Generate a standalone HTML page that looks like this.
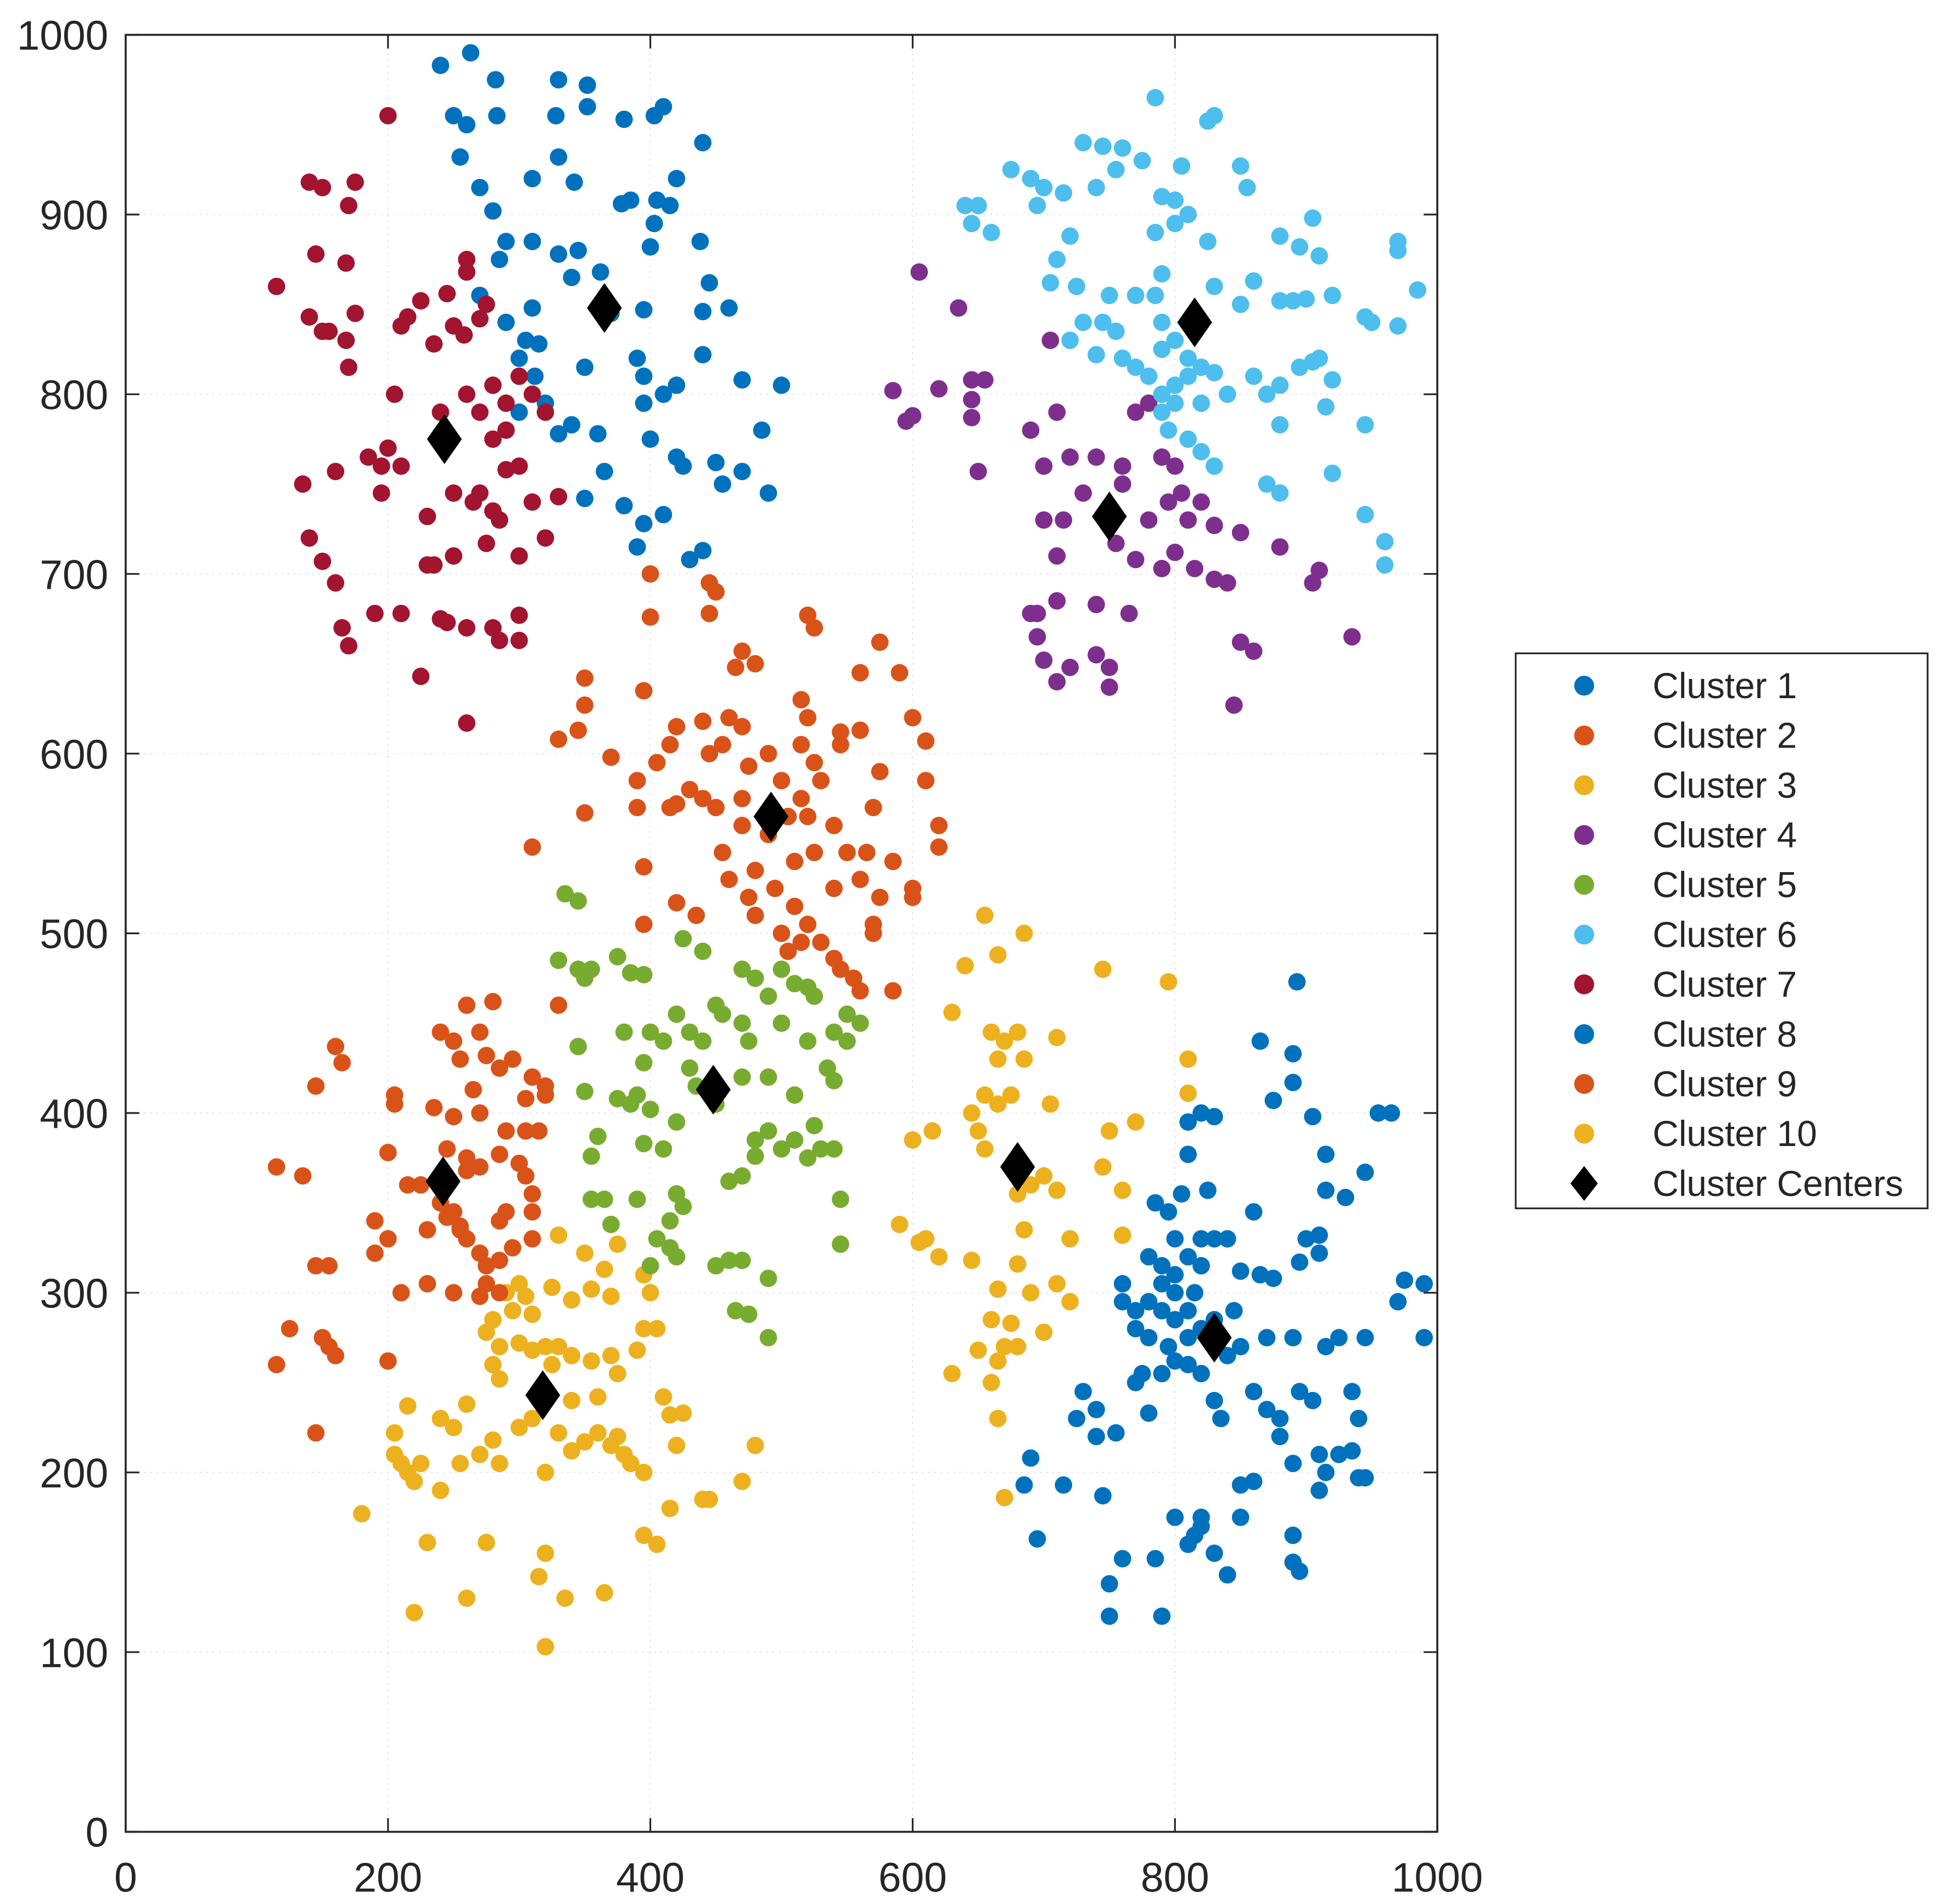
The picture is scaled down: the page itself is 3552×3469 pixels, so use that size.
<!DOCTYPE html>
<html><head><meta charset="utf-8"><style>
html,body{margin:0;padding:0;background:#fff;}
svg{display:block;}
text{font-family:"Liberation Sans",sans-serif;fill:#262626;}
</style></head><body>
<svg id="chart" xmlns="http://www.w3.org/2000/svg" width="3552" height="3469" viewBox="0 0 1567 1530" preserveAspectRatio="none">
<g id="grid"></g>
<g id="points"></g>
<g id="axes"></g>
<g id="legend"></g>
</svg>
<script>
const xTicks=[0,200,400,600,800,1000];
const yTicks=[0,100,200,300,400,500,600,700,800,900,1000];
const clusterNames=["Cluster 1","Cluster 2","Cluster 3","Cluster 4","Cluster 5","Cluster 6","Cluster 7","Cluster 8","Cluster 9","Cluster 10"];
const clusterColors=["#0072BD","#D95319","#EDB120","#7E2F8E","#77AC30","#4DBEEE","#A2142F","#0072BD","#D95319","#EDB120"];
const cluster1=[[240,983],[263,990],[282,975],[330,975],[352,972],[250,955],[260,950],[283,955],[328,955],[352,960],[380,953],[410,960],[403,955],[440,940],[255,932],[330,932],[342,918],[310,920],[270,915],[280,902],[385,908],[378,906],[405,908],[415,905],[420,920],[403,895],[290,885],[310,885],[285,875],[330,878],[345,880],[362,868],[400,882],[438,885],[445,862],[340,865],[270,855],[370,845],[395,847],[290,840],[310,848],[440,846],[460,848],[305,830],[315,828],[300,820],[350,815],[390,820],[395,810],[440,822],[470,808],[312,810],[410,800],[420,805],[395,795],[500,805],[340,783],[360,778],[330,778],[365,757],[400,775],[420,765],[425,760],[450,762],[455,750],[470,757],[490,745],[485,780],[350,742],[380,738],[410,733],[395,728],[390,715],[430,708],[440,713],[300,790],[320,795]];
const cluster2=[[400,700],[445,695],[450,690],[400,676],[445,678],[520,677],[525,670],[575,662],[560,645],[590,645],[470,657],[480,650],[465,648],[420,615],[440,618],[460,620],[470,615],[520,620],[515,630],[545,612],[560,613],[600,620],[610,607],[350,642],[350,627],[345,613],[330,608],[370,598],[390,585],[405,595],[415,605],[445,600],[455,605],[475,593],[490,600],[515,605],[525,595],[545,605],[575,590],[395,635],[430,580],[440,575],[450,570],[470,575],[500,585],[515,575],[530,585],[470,560],[420,572],[350,567],[390,570],[415,570],[490,555],[505,565],[520,565],[540,560],[570,570],[550,545],[565,545],[560,530],[455,545],[460,530],[480,535],[510,540],[525,545],[585,540],[600,525],[310,548],[395,537],[395,505],[420,517],[435,510],[475,520],[480,510],[495,525],[510,515],[500,500],[505,490],[515,495],[520,505],[530,495],[540,486],[545,480],[555,475],[570,500],[570,505],[560,468],[585,468],[540,525],[575,520],[620,560],[620,548],[610,585],[600,520]];
const cluster3=[[330,332],[350,322],[375,327],[365,313],[290,300],[300,305],[305,298],[295,290],[310,288],[280,285],[275,278],[285,270],[300,272],[310,268],[320,270],[330,270],[340,265],[325,260],[280,260],[285,252],[325,303],[340,296],[355,302],[370,298],[395,310],[400,300],[395,280],[405,280],[370,265],[355,262],[390,268],[375,255],[410,242],[415,232],[425,233],[360,242],[340,240],[320,240],[310,230],[300,225],[330,222],[360,222],[370,215],[375,220],[350,217],[340,212],[260,238],[250,225],[240,230],[215,237],[205,222],[225,205],[255,205],[270,210],[280,218],[285,205],[205,210],[210,205],[215,200],[220,195],[240,190],[320,200],[380,210],[385,205],[395,200],[415,180],[440,185],[445,185],[470,195],[480,215],[420,215],[180,177],[230,161],[275,161],[220,122],[260,130],[320,155],[315,142],[335,130],[365,133],[395,165],[405,160],[320,103]];
const cluster4=[[605,868],[635,848],[585,802],[595,785],[600,788],[620,803],[645,808],[655,808],[645,797],[645,787],[705,830],[710,790],[690,780],[720,765],[740,765],[770,790],[780,795],[760,760],[650,757],[700,760],[700,730],[715,730],[730,745],[760,750],[790,765],[795,740],[805,745],[780,730],[810,730],[830,727],[850,723],[800,712],[710,710],[755,717],[770,708],[790,703],[815,703],[830,697],[840,695],[880,715],[910,702],[905,695],[935,665],[695,678],[690,678],[695,665],[700,652],[720,648],[710,685],[740,683],[765,678],[740,655],[750,648],[710,640],[750,637],[850,662],[860,657],[845,627],[820,740],[800,760]];
const cluster5=[[335,522],[345,518],[330,485],[345,480],[350,475],[355,480],[375,487],[385,478],[395,477],[425,497],[440,490],[470,480],[480,475],[500,480],[510,472],[520,470],[450,460],[455,455],[470,450],[475,440],[490,465],[525,465],[500,450],[520,440],[540,445],[550,440],[550,455],[560,450],[535,425],[540,418],[420,455],[430,445],[440,440],[400,445],[410,440],[430,425],[435,415],[395,428],[380,445],[390,410],[385,405],[400,402],[345,437],[350,412],[375,408],[360,387],[355,376],[355,352],[365,352],[395,383],[410,380],[420,395],[450,405],[470,420],[490,420],[510,410],[480,385],[490,390],[500,380],[480,376],[470,365],[460,362],[520,375],[530,380],[540,380],[525,393],[510,385],[415,340],[420,355],[425,348],[390,352],[370,338],[405,330],[415,325],[420,320],[400,315],[450,315],[460,318],[470,318],[465,290],[475,288],[490,275],[490,308],[545,327],[545,352]];
const cluster6=[[785,965],[730,940],[745,938],[760,937],[830,955],[825,952],[775,930],[805,927],[850,927],[675,925],[690,920],[700,915],[715,912],[740,915],[755,925],[695,905],[810,900],[800,895],[790,910],[800,908],[855,915],[640,905],[650,905],[645,895],[660,890],[720,888],[785,890],[825,885],[880,888],[895,882],[905,898],[910,877],[970,885],[970,880],[920,855],[970,838],[985,858],[950,840],[945,843],[710,875],[725,860],[750,855],[770,855],[790,867],[785,855],[830,860],[850,850],[860,863],[880,852],[890,852],[900,853],[705,862],[730,840],[745,840],[755,835],[760,820],[770,815],[720,830],[740,822],[790,840],[790,825],[800,830],[810,820],[820,815],[780,810],[790,800],[800,805],[810,810],[830,812],[800,795],[790,790],[820,795],[840,800],[860,810],[870,800],[880,805],[880,783],[895,815],[905,818],[910,820],[920,808],[915,793],[920,756],[880,745],[870,750],[810,775],[820,768],[795,780],[830,760],[945,783],[945,733],[960,718],[960,705]];
const cluster7=[[115,860],[140,918],[150,915],[170,905],[175,918],[200,955],[145,878],[168,873],[140,843],[150,835],[155,835],[168,830],[170,815],[175,845],[210,838],[215,843],[225,852],[235,828],[245,856],[250,838],[258,833],[260,875],[260,868],[270,842],[275,850],[205,800],[185,765],[200,770],[195,760],[210,760],[135,750],[160,757],[195,745],[140,720],[150,707],[160,695],[165,670],[170,660],[190,678],[210,678],[225,643],[240,675],[245,673],[260,670],[280,670],[285,663],[300,663],[300,677],[260,617],[230,705],[235,705],[250,710],[275,717],[300,710],[320,720],[230,732],[250,745],[265,740],[280,735],[290,758],[310,740],[330,743],[240,790],[260,800],[270,790],[280,805],[290,795],[300,810],[310,800],[320,790],[280,775],[290,780],[300,760],[270,745],[285,730]];
const cluster8=[[893,473],[865,440],[890,433],[875,407],[890,417],[905,398],[955,400],[965,400],[820,400],[810,395],[830,398],[810,377],[915,377],[945,367],[860,345],[915,357],[930,353],[900,330],[910,332],[910,322],[895,317],[850,312],[865,310],[875,308],[820,330],[830,330],[840,330],[800,330],[795,345],[805,355],[825,357],[785,350],[780,320],[790,315],[800,310],[810,320],[820,315],[815,300],[800,300],[790,305],[810,290],[800,285],[790,290],[780,295],[770,290],[760,305],[760,295],[770,280],[780,275],[795,270],[810,275],[820,280],[830,285],[845,290],[850,270],[870,275],[890,275],[840,265],[810,260],[790,255],[775,255],[800,262],[820,255],[830,240],[835,230],[860,245],[870,235],[880,230],[895,245],[905,240],[915,270],[925,275],[945,275],[935,245],[940,230],[970,295],[975,307],[990,305],[990,275],[780,233],[755,222],[740,235],[740,220],[725,230],[730,245],[770,250],[880,220],[890,205],[910,210],[925,210],[935,212],[915,200],[940,197],[945,197],[910,190],[860,195],[850,193],[690,208],[685,193],[715,193],[745,187],[800,175],[810,160],[815,165],[820,170],[830,155],[820,175],[760,152],[785,152],[750,138],[750,120],[790,120],[840,143],[890,150],[895,145],[890,165],[695,163],[850,175]];
const cluster9=[[145,415],[160,437],[165,428],[205,410],[205,405],[240,445],[250,440],[260,460],[255,430],[270,445],[280,462],[275,432],[285,425],[295,430],[330,460],[310,420],[305,408],[320,415],[320,410],[265,413],[235,403],[250,398],[270,400],[245,380],[260,375],[290,390],[305,390],[315,390],[200,378],[215,360],[225,360],[240,350],[250,345],[255,337],[260,368],[270,370],[285,377],[300,372],[305,365],[310,355],[245,342],[260,330],[255,335],[230,335],[190,340],[190,322],[200,330],[285,340],[290,345],[310,345],[270,322],[275,315],[285,318],[295,325],[310,330],[275,305],[285,300],[270,298],[230,305],[250,300],[210,300],[145,315],[155,315],[115,370],[135,365],[125,280],[150,275],[155,270],[160,265],[115,260],[200,262],[145,222]];
const cluster10=[[655,510],[665,488],[685,500],[640,482],[745,480],[795,473],[710,442],[670,440],[660,445],[680,445],[630,456],[665,430],[685,430],[645,400],[655,410],[675,410],[665,405],[705,405],[810,430],[810,411],[600,385],[615,390],[650,390],[655,380],[700,365],[690,360],[680,355],[750,390],[770,395],[760,357],[745,370],[710,357],[685,335],[720,330],[645,318],[605,328],[610,330],[590,338],[620,320],[680,316],[690,300],[710,305],[720,295],[665,302],[700,278],[760,332],[660,285],[675,283],[650,268],[670,270],[680,270],[665,262],[660,250],[630,255],[665,230],[670,186]];
const centersX=[243,365,492,448,242,318,680,830,750,815];
const centersY=[775,848,565,413,362,243,370,275,732,840];

const NS="http://www.w3.org/2000/svg";
const L=101,R=1155,T=28,B=1472;
function sx(v){return L+(v-0)/(1000-0)*(R-L);}
function sy(v){return B-(v-0)/(1000-0)*(B-T);}
function mk(tag,attrs,parent){const e=document.createElementNS(NS,tag);for(const k in attrs)e.setAttribute(k,attrs[k]);parent.appendChild(e);return e;}
const grid=document.getElementById('grid'),pts=document.getElementById('points'),axes=document.getElementById('axes'),leg=document.getElementById('legend');

xTicks.forEach(v=>{
  const g=mk('line',{x1:sx(v),x2:sx(v),y1:T,y2:B,stroke:'#dcdcdc','stroke-width':1,'stroke-dasharray':'1,4'},grid);
  
  
});
yTicks.forEach(v=>{
  const g=mk('line',{x1:L,x2:R,y1:sy(v),y2:sy(v),stroke:'#dcdcdc','stroke-width':1,'stroke-dasharray':'1,4'},grid);
  
  
});

const allClusters=[cluster1,cluster2,cluster3,cluster4,cluster5,cluster6,cluster7,cluster8,cluster9,cluster10];
allClusters.forEach((arr,ci)=>{
  arr.forEach(p=>{
    const c=mk('circle',{cx:sx(p[0]),cy:sy(p[1]),r:7,fill:clusterColors[ci]},pts);
    
    
  });
});
centersX.forEach((x,i)=>{
  const cx=sx(x),cy=sy(centersY[i]);
  const d=mk('polygon',{points:`${cx},${cy-20} ${cx+14},${cy} ${cx},${cy+20} ${cx-14},${cy}`,fill:'#000'},pts);
  
  
});

const frame=mk('rect',{x:L,y:T,width:R-L,height:B-T,fill:'none',stroke:'#262626','stroke-width':1.6},axes);


xTicks.forEach(v=>{
  mk('line',{x1:sx(v),x2:sx(v),y1:B,y2:B-11,stroke:'#262626','stroke-width':1.4},axes);
  mk('line',{x1:sx(v),x2:sx(v),y1:T,y2:T+11,stroke:'#262626','stroke-width':1.4},axes);
  const t=mk('text',{x:sx(v),y:B+48,'text-anchor':'middle','font-size':33},axes);
  t.textContent=v;
  
  
});
yTicks.forEach(v=>{
  mk('line',{x1:L,x2:L+11,y1:sy(v),y2:sy(v),stroke:'#262626','stroke-width':1.4},axes);
  mk('line',{x1:R,x2:R-11,y1:sy(v),y2:sy(v),stroke:'#262626','stroke-width':1.4},axes);
  const t=mk('text',{x:L-14,y:sy(v)+12,'text-anchor':'end','font-size':33},axes);
  t.textContent=v;
  
  
});

const box=mk('rect',{x:1218,y:525,width:331,height:446,fill:'#fff',stroke:'#262626','stroke-width':1.4},leg);


const legendLabels=clusterNames.concat(["Cluster Centers"]);
legendLabels.forEach((name,i)=>{
  const y=551+i*40;
  let m;
  if(i<10){m=mk('circle',{cx:1273,cy:y,r:8,fill:clusterColors[i]},leg);}
  else{m=mk('polygon',{points:`1273,${y-14} 1284,${y} 1273,${y+14} 1262,${y}`,fill:'#000'},leg);}
  
  
  const t=mk('text',{x:1328,y:y+10,'font-size':29},leg);
  t.textContent=name;
  
  
});
</script>
</body></html>
